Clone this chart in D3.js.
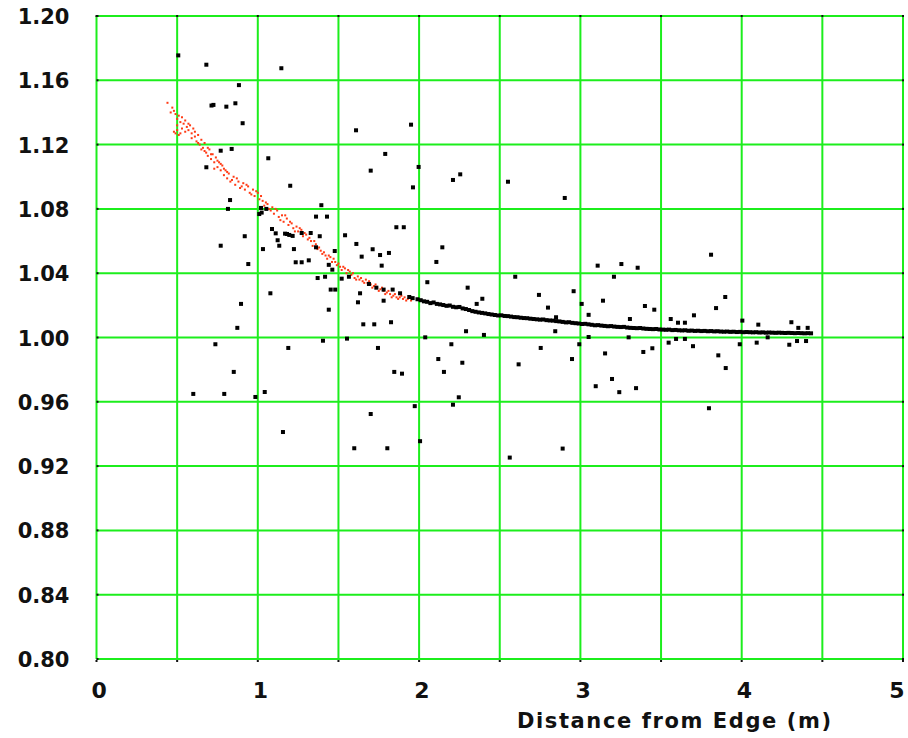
<!DOCTYPE html>
<html>
<head>
<meta charset="utf-8">
<script src="https://cdn.jsdelivr.net/npm/d3@7"></script>
<style>
  body { margin: 0; background: #fff; }
  text { font-family: "DejaVu Sans", Verdana, sans-serif; font-weight: bold; fill: #111; }
</style>
</head>
<body>
<div id="chart"></div>
<script>
const xTicks = [0, 1, 2, 3, 4, 5];
const yTicks = [0.80, 0.84, 0.88, 0.92, 0.96, 1.00, 1.04, 1.08, 1.12, 1.16, 1.20];
const xGrid = [0, 0.5, 1, 1.5, 2, 2.5, 3, 3.5, 4, 4.5, 5];
const xTitle = "Distance from Edge (m)";

// scattered black measurements
const scatterPts = [
  [0.507,1.1755],[0.681,1.1697],[1.146,1.1675],[0.883,1.157],[0.713,1.1443],[0.725,1.1447],
  [0.805,1.1436],[0.861,1.1457],[0.906,1.1333],[1.950,1.1324],[0.770,1.1162],[0.838,1.1173],
  [1.065,1.1115],[0.681,1.1059],[1.201,1.0944],[0.828,1.0855],[0.815,1.080],[1.394,1.0823],
  [1.020,1.0806],[1.053,1.080],[1.009,1.0768],[1.024,1.0777],[1.361,1.0752],[1.429,1.0752],
  [1.088,1.0675],[1.111,1.0648],[1.169,1.0646],[1.181,1.0644],[1.195,1.0638],[1.216,1.0632],
  [1.272,1.065],[1.328,1.065],[1.384,1.063],[1.541,1.0636],[0.919,1.063],[1.123,1.0605],
  [1.133,1.0571],[0.770,1.0571],[1.032,1.055],[1.224,1.055],[1.361,1.0561],[1.477,1.0538],
  [1.235,1.0468],[1.272,1.0468],[1.316,1.048],[1.462,1.0422],[0.941,1.0457],[1.371,1.037],
  [1.417,1.0378],[1.520,1.0366],[1.609,1.1289],[1.790,1.1142],[1.700,1.1038],[1.997,1.1061],
  [1.962,1.0934],[2.210,1.098],[2.255,1.1015],[2.551,1.0969],[2.903,1.0868],[1.859,1.0686],
  [1.905,1.0686],[1.611,1.0582],[2.144,1.0561],[1.712,1.0549],[1.758,1.0513],[1.813,1.0526],
  [1.644,1.0503],[2.107,1.047],[1.768,1.0447],[1.440,1.0452],[1.565,1.0378],[1.689,1.0333],
  [1.452,1.0298],[1.480,1.0298],[1.634,1.0275],[1.735,1.031],[1.780,1.0298],[1.836,1.0298],
  [1.882,1.0275],[1.939,1.0252],[1.621,1.0219],[1.780,1.0229],[1.440,1.0173],[1.654,1.0082],
  [1.722,1.0082],[1.826,1.0095],[1.404,0.998],[1.553,0.9993],[1.745,0.9935],[2.038,1.0001],
  [2.119,0.9866],[2.200,0.9958],[2.268,0.9843],[2.154,0.9786],[1.846,0.9786],[1.894,0.9775],
  [2.246,0.9628],[2.291,1.0039],[2.402,1.0016],[2.617,0.9833],[2.754,0.9935],[2.844,1.0039],
  [2.799,1.0186],[2.948,0.9866],[2.993,0.9958],[3.095,0.9697],[3.051,1.0003],[3.051,1.0141],
  [2.958,1.0288],[2.743,1.0265],[2.596,1.0378],[2.301,1.031],[2.392,1.0241],[2.357,1.0209],
  [2.051,1.0344],[3.107,1.0447],[3.008,1.0209],[1.078,1.0275],[0.896,1.0209],[0.873,1.006],
  [0.737,0.9958],[0.851,0.9786],[0.600,0.9649],[0.792,0.9649],[1.043,0.9661],[0.985,0.963],
  [1.189,0.9935],[1.156,0.9412],[1.700,0.9524],[1.598,0.9311],[1.803,0.9311],[1.973,0.9573],
  [2.210,0.9582],[2.006,0.9355],[2.562,0.9253],[2.890,0.9309],[3.810,1.0515],[3.254,1.0457],
  [3.355,1.0434],[3.208,1.0378],[3.140,1.0229],[3.898,1.0252],[3.841,1.0183],[3.400,1.0196],
  [3.458,1.0173],[3.307,1.0115],[3.560,1.0115],[3.605,1.0092],[3.648,1.0092],[3.704,1.0138],
  [4.004,1.0105],[4.103,1.008],[4.308,1.0095],[4.351,1.006],[4.409,1.006],[2.849,1.0126],
  [3.299,1.0001],[3.547,0.9968],[3.593,0.9991],[3.648,0.9991],[3.698,0.9946],[3.988,0.9958],
  [4.093,0.9968],[4.161,1.0001],[4.295,0.9955],[4.343,0.9978],[4.399,0.9978],[3.153,0.9901],
  [3.390,0.9910],[3.446,0.9933],[3.855,0.9889],[3.901,0.981],[3.196,0.9742],[3.241,0.966],
  [3.345,0.9685],[3.797,0.956]
];

// dense black band near 1.00
const bandPts = [
  [1.96,1.0245],[1.99,1.0238],[2.01,1.0232],[2.03,1.0225],[2.05,1.0222],[2.07,1.0214],[2.09,1.0218],
  [2.11,1.0209],[2.13,1.0206],[2.15,1.0202],[2.17,1.0197],[2.19,1.0199],[2.21,1.0191],[2.23,1.0188],
  [2.25,1.0190],[2.27,1.0181],[2.29,1.0177],[2.31,1.0171],[2.33,1.0164],[2.35,1.0160],[2.37,1.0156],
  [2.39,1.0153],[2.41,1.0150],[2.43,1.0146],[2.45,1.0143],[2.47,1.0140],[2.49,1.0137],[2.51,1.0138],
  [2.53,1.0134],[2.55,1.0133],[2.57,1.0130],[2.59,1.0127],[2.61,1.0126],[2.63,1.0123],[2.65,1.0121],
  [2.67,1.0120],[2.69,1.0117],[2.71,1.0115],[2.73,1.0113],[2.75,1.0111],[2.77,1.0112],[2.79,1.0108],
  [2.81,1.0106],[2.83,1.0105],[2.85,1.0102],[2.87,1.0100],[2.89,1.0097],[2.91,1.0094],[2.93,1.0095],
  [2.95,1.0091],[2.97,1.0089],[2.99,1.0087],[3.01,1.0084],[3.03,1.0085],[3.05,1.0082],[3.07,1.0079],
  [3.09,1.0076],[3.11,1.0077],[3.13,1.0074],[3.15,1.0072],[3.17,1.0070],[3.19,1.0071],[3.21,1.0068],
  [3.23,1.0066],[3.25,1.0065],[3.27,1.0066],[3.29,1.0062],[3.31,1.0060],[3.33,1.0059],[3.35,1.0058],
  [3.37,1.0059],[3.39,1.0056],[3.41,1.0054],[3.43,1.0053],[3.45,1.0052],[3.47,1.0053],[3.49,1.0050],
  [3.51,1.0049],[3.53,1.0048],[3.55,1.0049],[3.57,1.0046],[3.59,1.0047],[3.61,1.0045],[3.63,1.0044],
  [3.65,1.0045],[3.67,1.0042],[3.69,1.0043],[3.71,1.0041],[3.73,1.0042],[3.75,1.0040],[3.77,1.0041],
  [3.79,1.0039],[3.81,1.0040],[3.83,1.0038],[3.85,1.0039],[3.87,1.0037],[3.89,1.0036],[3.91,1.0037],
  [3.93,1.0035],[3.95,1.0036],[3.97,1.0034],[3.99,1.0035],[4.01,1.0033],[4.03,1.0034],[4.05,1.0033],
  [4.07,1.0032],[4.09,1.0033],[4.11,1.0031],[4.13,1.0032],[4.15,1.0030],[4.17,1.0031],[4.19,1.0030],
  [4.21,1.0029],[4.23,1.0030],[4.25,1.0029],[4.27,1.0028],[4.29,1.0029],[4.31,1.0028],[4.33,1.0027],
  [4.35,1.0028],[4.37,1.0027],[4.39,1.0026],[4.41,1.0027],[4.43,1.0026]
];

// red points, near edge
const redPts = [
  [0.44,1.146],[0.47,1.143],[0.48,1.141],[0.49,1.139],[0.49,1.127],[0.50,1.129],[0.50,1.136],
  [0.51,1.138],[0.51,1.126],[0.52,1.134],[0.53,1.137],[0.54,1.133],[0.55,1.135],[0.56,1.131],
  [0.57,1.129],[0.58,1.132],[0.59,1.127],[0.60,1.130],[0.61,1.125],[0.62,1.122],[0.63,1.126],
  [0.64,1.120],[0.65,1.123],[0.66,1.118],[0.67,1.121],[0.68,1.115],[0.69,1.113],[0.70,1.117],
  [0.71,1.111],[0.72,1.114],[0.73,1.109],[0.74,1.112],[0.75,1.106],[0.76,1.109],[0.77,1.104],
  [0.78,1.107],[0.79,1.101],[0.80,1.104],[0.81,1.099],[0.82,1.102],[0.83,1.097],[0.85,1.100],
  [0.86,1.095],[0.88,1.097],[0.89,1.093],[0.91,1.096],[0.92,1.092],[0.94,1.094],[0.95,1.090],
  [0.97,1.092],[0.98,1.088],[1.00,1.090],[1.01,1.086],[1.03,1.085],[1.04,1.082],[1.06,1.083],
  [1.07,1.080],[1.09,1.081],[1.10,1.077],[1.12,1.079],[1.13,1.075],[1.15,1.076],[1.16,1.072],
  [1.18,1.074],[1.19,1.070],[1.21,1.071],[1.22,1.068],[1.24,1.069],[1.25,1.066],[1.27,1.067],
  [1.28,1.063],[1.30,1.064],[1.31,1.061],[1.33,1.060],[1.34,1.057],[1.36,1.058],[1.37,1.055],
  [1.39,1.054],[1.40,1.052],[1.42,1.051],[1.43,1.049],[1.45,1.050],[1.46,1.047],[1.48,1.047],
  [1.49,1.045],[1.51,1.044],[1.52,1.042],[1.54,1.043],[1.55,1.040],[1.57,1.041],[1.58,1.039],
  [1.60,1.037],[1.62,1.038],[1.63,1.036],[1.65,1.035],[1.67,1.036],[1.68,1.034],[1.70,1.033],
  [1.72,1.032],[1.74,1.031],[1.76,1.030],[1.78,1.029],[1.80,1.028],[1.82,1.027],[1.84,1.026],
  [1.86,1.025],[1.88,1.025],[1.90,1.024],[1.92,1.023],[1.95,1.023],
  [0.46,1.140],[0.48,1.128],[0.50,1.132],[0.52,1.127],[0.53,1.130],[0.55,1.128],[0.57,1.133],
  [0.59,1.124],[0.61,1.128],[0.63,1.121],[0.65,1.117],[0.67,1.116],[0.69,1.118],[0.71,1.114],
  [0.73,1.105],[0.75,1.110],[0.77,1.108],[0.79,1.105],[0.81,1.103],[0.84,1.098],[0.87,1.099],
  [0.90,1.094],[0.93,1.095],[0.96,1.089],[0.99,1.091],[1.02,1.088],[1.05,1.084],[1.08,1.079],
  [1.11,1.080],[1.14,1.073],[1.17,1.076],[1.20,1.072],[1.23,1.066],[1.26,1.068],[1.29,1.065],
  [1.32,1.062],[1.35,1.060],[1.38,1.056],[1.41,1.053],[1.44,1.051],[1.47,1.049],[1.50,1.046],
  [1.53,1.044],[1.56,1.042],[1.59,1.040],[1.61,1.036],[1.64,1.037],[1.66,1.034],[1.69,1.035],
  [1.71,1.031],[1.73,1.033],[1.75,1.029],[1.77,1.031],[1.79,1.027],[1.81,1.029],[1.83,1.025],
  [1.85,1.027],[1.87,1.024],[1.89,1.026],[1.91,1.025],[1.93,1.024]
];

const width = 908, height = 738;

const x = d3.scaleLinear().domain([0, 5]).range([96.5, 903]);
const y = d3.scaleLinear().domain([0.8, 1.2]).range([659, 16]);

const svg = d3.select("#chart").append("svg")
  .attr("width", width)
  .attr("height", height);

// grid
const grid = svg.append("g").attr("stroke", "#1cee1c").attr("stroke-width", 2);
grid.selectAll(".v").data(xGrid).join("line")
  .attr("x1", d => x(d)).attr("x2", d => x(d))
  .attr("y1", y(1.2)).attr("y2", y(0.8));
grid.selectAll(".h").data(yTicks).join("line")
  .attr("x1", x(0)).attr("x2", x(5))
  .attr("y1", d => y(d)).attr("y2", d => y(d));

// little tick dots on the frame
const dots = svg.append("g").attr("fill", "#111");
yTicks.forEach(v => {
  dots.append("rect").attr("x", x(0)).attr("y", y(v) - 1).attr("width", 2).attr("height", 2);
  dots.append("rect").attr("x", x(5) - 1).attr("y", y(v) - 1).attr("width", 2).attr("height", 2);
});
xGrid.forEach(v => {
  dots.append("rect").attr("x", x(v) - 1).attr("y", y(0.8) + 1).attr("width", 2).attr("height", 2);
  dots.append("rect").attr("x", x(v) - 1).attr("y", y(1.2) - 1).attr("width", 2).attr("height", 2);
});

// axes (labels only)
svg.append("g")
  .attr("transform", `translate(${x(0) - 24},0)`)
  .call(d3.axisLeft(y).tickValues(yTicks).tickFormat(d3.format(".2f")).tickSize(0))
  .call(g => g.select(".domain").remove())
  .call(g => g.selectAll("text").attr("font-size", 21).attr("fill", "#111").attr("dy", "0.36em"));

svg.append("g")
  .attr("transform", `translate(0,${y(0.8) + 19})`)
  .call(d3.axisBottom(x).tickValues(xTicks).tickFormat(d3.format("d")).tickSize(0))
  .call(g => g.select(".domain").remove())
  .call(g => g.selectAll("text").attr("font-size", 22).attr("fill", "#111").attr("dy", "0.75em").attr("dx", "0.1em"))
  .call(g => g.selectAll(".tick").filter(d => d === 5).select("text").attr("dx", "-0.3em"));

svg.append("text")
  .attr("x", 517).attr("y", 728)
  .attr("font-size", 21)
  .attr("letter-spacing", 1.6)
  .text(xTitle);

// points
svg.append("g").selectAll("rect").data(redPts).join("rect")
  .attr("x", d => x(d[0]) - 1).attr("y", d => y(d[1]) - 1)
  .attr("width", 2).attr("height", 2)
  .attr("fill", "#ff3a14");

svg.append("g").selectAll("rect").data(bandPts.concat(scatterPts)).join("rect")
  .attr("x", d => x(d[0]) - 2).attr("y", d => y(d[1]) - 2)
  .attr("width", 4).attr("height", 4)
  .attr("fill", "#000");
</script>
</body>
</html>
